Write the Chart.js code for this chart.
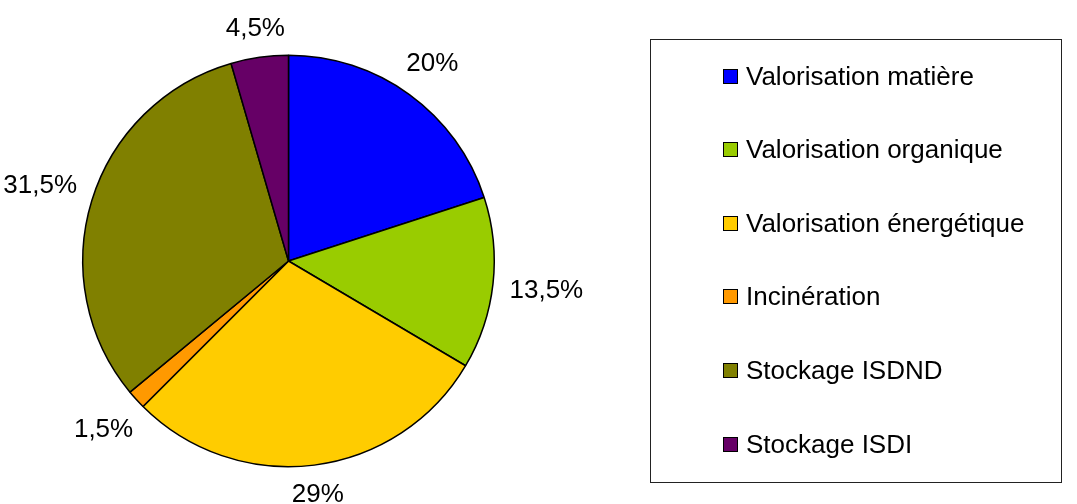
<!DOCTYPE html>
<html>
<head>
<meta charset="utf-8">
<script src="https://cdn.jsdelivr.net/npm/chart.js@4/dist/chart.umd.min.js"></script>
<style>
  html, body { margin: 0; padding: 0; background: #fff; }
  #wrap { position: relative; width: 1077px; height: 504px; }
  #c { position: absolute; left: 0; top: 0; }
  #legend {
    position: absolute; left: 650px; top: 39px; width: 412px; height: 444px;
    border: 1px solid #222; box-sizing: border-box;
    font-family: "Liberation Sans", Arial, sans-serif; font-size: 26px; color: #000;
  }
  .row { position: absolute; left: 72px; height: 30px; display: flex; align-items: center; }
  .sw { width: 13px; height: 13px; border: 1.5px solid #000; margin-right: 8px; flex: none; }
</style>
</head>
<body>
<div id="wrap">
  <canvas id="c" width="1077" height="504"></canvas>
  <div id="legend"></div>
</div>
<script>
const categories = ["Valorisation matière", "Valorisation organique", "Valorisation énergétique", "Incinération", "Stockage ISDND", "Stockage ISDI"];
const values = [20, 13.5, 29, 1.5, 31.5, 4.5];
const valueLabels = ["20%", "13,5%", "29%", "1,5%", "31,5%", "4,5%"];
const colors = ["#0000FF", "#99CC00", "#FFCC00", "#FF9900", "#808000", "#660066"];

const legend = document.getElementById('legend');
categories.forEach((name, i) => {
  const row = document.createElement('div');
  row.className = 'row';
  row.style.top = (36 + i * 73.6 - 15) + 'px';
  const sw = document.createElement('span');
  sw.className = 'sw';
  sw.style.background = colors[i];
  const t = document.createElement('span');
  t.textContent = name;
  row.appendChild(sw); row.appendChild(t);
  legend.appendChild(row);
});

const outsideLabels = {
  id: 'outsideLabels',
  afterDatasetsDraw(chart) {
    const ctx = chart.ctx;
    const meta = chart.getDatasetMeta(0);
    ctx.save();
    ctx.font = '26px "Liberation Sans", Arial, sans-serif';
    ctx.fillStyle = '#000';
    ctx.textAlign = 'center';
    ctx.textBaseline = 'middle';
    const gap = 16, h = 19;
    meta.data.forEach((arc, i) => {
      const p = arc.getProps(['x', 'y', 'startAngle', 'endAngle', 'outerRadius'], true);
      const mid = (p.startAngle + p.endAngle) / 2;
      const ux = Math.cos(mid), uy = Math.sin(mid);
      const w = ctx.measureText(valueLabels[i]).width;
      const d = p.outerRadius + gap + Math.abs(ux) * w / 2 + Math.abs(uy) * h / 2;
      ctx.fillText(valueLabels[i], p.x + ux * d, p.y + uy * d + 1);
    });
    ctx.restore();
  }
};

new Chart(document.getElementById('c'), {
  type: 'pie',
  data: {
    labels: categories,
    datasets: [{
      data: values,
      backgroundColor: colors,
      borderColor: '#000',
      borderWidth: 1.5
    }]
  },
  options: {
    responsive: false,
    animation: false,
    layout: { padding: { left: 82, right: 582, top: 54, bottom: 36 } },
    plugins: { legend: { display: false }, tooltip: { enabled: false } }
  },
  plugins: [outsideLabels]
});
</script>
</body>
</html>
